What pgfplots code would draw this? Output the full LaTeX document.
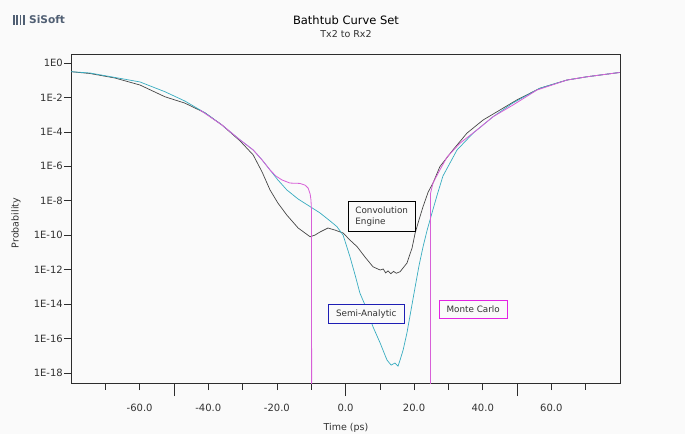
\documentclass[border=0pt]{standalone}
\usepackage{pgfplots}
\pgfplotsset{compat=1.18}
\usepackage{fontspec}
\setmainfont{DejaVu Sans}
\definecolor{bg}{RGB}{250,250,250}
\definecolor{cyanline}{RGB}{55,172,192}
\definecolor{blackline}{RGB}{70,70,70}
\definecolor{magline}{RGB}{215,95,215}
\definecolor{magbox}{RGB}{228,35,228}
\definecolor{bluebox}{RGB}{30,30,180}
\definecolor{axisgray}{RGB}{45,45,45}
\definecolor{labgray}{RGB}{50,50,50}
\definecolor{logo}{RGB}{80,95,115}
\begin{document}
\begin{tikzpicture}
\fill[bg] (0pt,0pt) rectangle (685pt,-434pt);
\useasboundingbox (0pt,0pt) rectangle (685pt,-434pt);
% logo
\foreach \i in {0,1,2,3}{\fill[logo] (13pt+\i*3.3pt,-15pt) rectangle (14.8pt+\i*3.3pt,-25pt);}
\node[anchor=west, text=logo, font=\fontsize{10.6}{12}\selectfont\bfseries, inner sep=0pt] at (29pt,-20pt) {SiSoft};
\node[text=black, font=\fontsize{11.5}{13}\selectfont, inner sep=0pt] at (346pt,-20pt) {Bathtub Curve Set};
\node[text=labgray, font=\fontsize{9.5}{11}\selectfont, inner sep=0pt] at (346pt,-34.5pt) {Tx2 to Rx2};
\node[text=labgray, font=\fontsize{9.5}{11}\selectfont, inner sep=0pt, rotate=90] at (16pt,-223pt) {Probability};
\node[text=labgray, font=\fontsize{9.5}{11}\selectfont, inner sep=0pt] at (346pt,-428pt) {Time (ps)};
\begin{axis}[
  at={(71pt,-383pt)}, anchor=south west,
  scale only axis, width=549pt, height=329pt,
  xmin=-80, xmax=80,
  ymode=log, ymin=2.63e-19, ymax=3.33,
  axis background/.style={fill=bg},
  axis line style={axisgray, line width=0.8pt},
  tick align=outside, xtick pos=lower, ytick pos=left,
  tick style={axisgray, line width=0.6pt},
  major tick length=7pt, minor tick length=6.5pt,
  xtick={-60,-40,-20,0,20,40,60},
  xticklabels={-60.0,-40.0,-20.0,0.0,20.0,40.0,60.0},
  minor xtick={-70,-50,-30,-10,10,30,50,70},
  extra x ticks={-50,0,50}, extra x tick labels={},
  extra x tick style={major tick length=13pt, tick style={axisgray, line width=0.6pt}},
  ytick={1,1e-2,1e-4,1e-6,1e-8,1e-10,1e-12,1e-14,1e-16,1e-18},
  yticklabels={1E0,1E-2,1E-4,1E-6,1E-8,1E-10,1E-12,1E-14,1E-16,1E-18},
  yminorticks=false,
  xticklabel style={font=\fontsize{10}{12}\selectfont, text=labgray, yshift=-11pt},
  yticklabel style={font=\fontsize{10}{12}\selectfont, text=labgray, inner sep=1pt},
  /pgf/number format/assume math mode=true,
  clip=true,
]
% Convolution Engine
\addplot[blackline, line width=0.7pt] coordinates {
(-80.0,0.313) (-74.5,0.2455) (-67.2,0.1346) (-59.9,0.0527) (-52.6,0.0109)
(-46.8,4.68e-3) (-40.9,1.26e-3) (-36.0,2.51e-4) (-30.7,2.95e-5) (-26.9,4.57e-6)
(-24.3,4.68e-7) (-22.0,4.27e-8) (-19.7,7.41e-9) (-17.1,1.48e-9) (-13.8,2.63e-10)
(-10.3,8.13e-11) (-8.9,1.02e-10) (-7.4,1.55e-10) (-5.1,2.63e-10) (-3.1,2.0e-10)
(-0.7,1.35e-10) (1.3,5.25e-11) (3.4,2.14e-11) (5.7,5.37e-12) (8.0,1.48e-12)
(9.0,1.2e-12) (10.1,9.55e-13) (11.0,1.1e-12) (11.7,6.5e-13) (12.4,8.5e-13)
(13.2,5.8e-13) (14.0,8.0e-13) (14.8,6.2e-13) (15.9,7.59e-13) (17.9,2.40e-12)
(19.4,1.82e-11) (20.3,1.35e-10) (21.4,7.59e-10) (22.6,4.57e-9) (24.1,3.24e-8)
(25.5,1.07e-7) (27.5,9.55e-7) (31.3,8.91e-6) (35.4,8.51e-5) (40.1,4.90e-4)
(45.0,1.86e-3) (49.9,7.08e-3) (56.6,3.39e-2) (64.5,0.102) (70.3,0.158) (79.9,0.282)
};
% Semi-Analytic
\addplot[cyanline, line width=0.7pt] coordinates {
(-80.0,0.313) (-74.5,0.263) (-67.2,0.145) (-59.9,0.0794) (-52.6,0.0214)
(-46.8,6.17e-3) (-40.9,1.26e-3) (-36.0,2.51e-4) (-30.7,3.39e-5) (-26.9,8.91e-6)
(-24.3,2.34e-6) (-22.0,6.17e-7) (-19.7,1.62e-7) (-17.1,4.27e-8) (-13.8,1.26e-8)
(-10.3,4.57e-9) (-7.4,1.95e-9) (-4.5,6.76e-10) (-2.5,3.16e-10) (-0.7,1.02e-10)
(1.3,5.62e-12) (2.8,4.90e-13) (4.2,4.37e-14) (6.3,4.57e-15) (8.0,4.90e-16)
(10.1,5.50e-17) (12.1,5.62e-18) (13.3,2.88e-18) (14.4,3.80e-18) (15.3,2.51e-18)
(15.9,5.62e-18) (16.8,2.19e-17) (17.9,2.09e-16) (19.1,4.57e-15) (20.3,1e-13)
(21.4,1.62e-12) (22.6,2.14e-11) (23.8,2.0e-10) (25.2,1.95e-9) (26.7,2.14e-8)
(28.4,2.75e-7) (32.5,8.91e-6) (37.2,8.51e-5) (43.0,7.59e-4) (48.8,4.79e-3)
(56.6,3.39e-2) (64.5,0.102) (70.3,0.158) (79.9,0.282)
};
% Monte Carlo (left tail)
\addplot[magline, line width=0.8pt] coordinates {
(-42.4,1.86e-3) (-36.0,2.51e-4) (-30.7,3.39e-5) (-26.9,8.91e-6) (-24.3,2.34e-6)
(-22.0,6.17e-7) (-20.3,2.75e-7) (-18.5,1.62e-7) (-16.2,1.07e-7) (-13.3,1.02e-7)
(-11.8,8.13e-8) (-10.9,5.50e-8) (-10.3,2.45e-8) (-10.06,1.10e-8) (-9.91,2.88e-9)
(-9.85,1e-25)
};
% Monte Carlo (right tail)
\addplot[magline, line width=0.8pt] coordinates {
(24.8,1e-25) (24.8,2.82e-8) (25.5,1.07e-7) (27.5,6.17e-7) (29.6,3.47e-6)
(33.4,2.24e-5) (38.3,1.29e-4) (43.0,7.59e-4) (48.8,3.63e-3) (55.8,2.69e-2)
(64.5,0.102) (70.3,0.158) (79.9,0.282)
};
\node[draw=black, line width=1.1pt, fill=bg, align=left, font=\fontsize{8.8}{10.5}\selectfont, text=labgray, minimum width=66.7pt, minimum height=30pt, inner sep=2pt] at (axis cs:10.55,1.18e-9) {Convolution\\Engine};
\node[draw=bluebox, line width=1.1pt, fill=bg, font=\fontsize{8.8}{10.5}\selectfont, text=labgray, minimum width=76pt, minimum height=19pt, inner sep=2pt] at (axis cs:6.06,2.75e-15) {Semi-Analytic};
\node[draw=magbox, line width=1.1pt, fill=bg, font=\fontsize{8.8}{10.5}\selectfont, text=labgray, minimum width=68pt, minimum height=18pt, inner sep=2pt] at (axis cs:37.2,5.0e-15) {Monte Carlo};
\end{axis}
\end{tikzpicture}
\end{document}
